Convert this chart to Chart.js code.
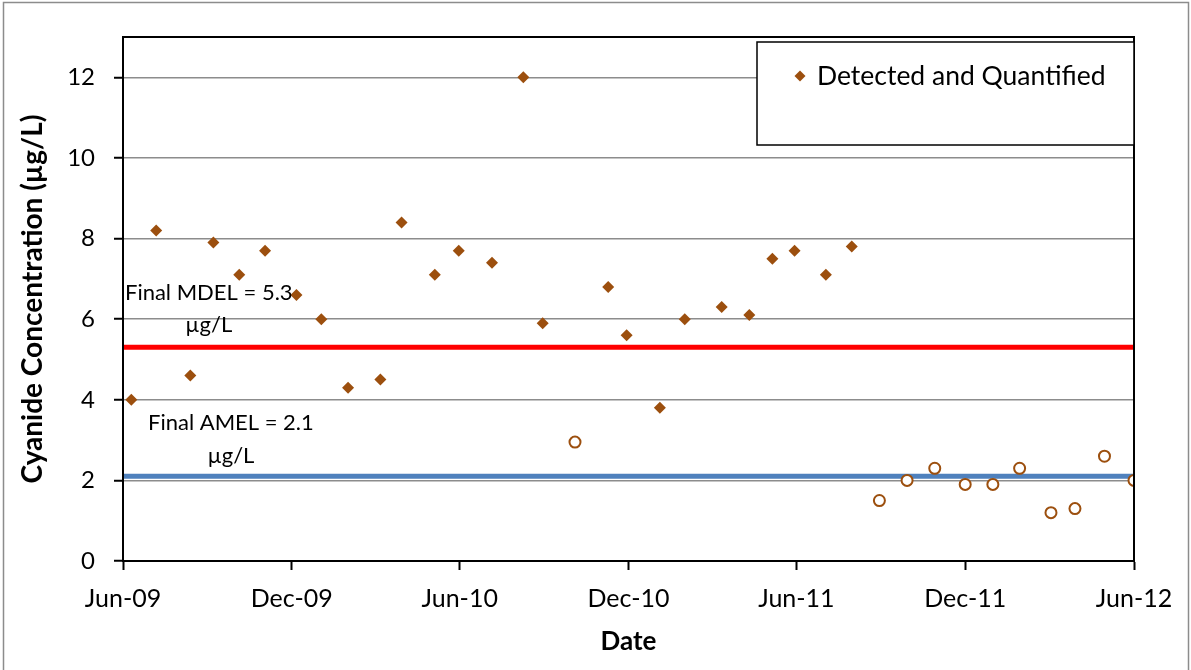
<!DOCTYPE html>
<html>
<head>
<meta charset="utf-8">
<script src="https://cdn.jsdelivr.net/npm/chart.js@4/dist/chart.umd.min.js"></script>
<style>
html,body{margin:0;padding:0;background:#fff;}
#wrap{width:1191px;height:670px;position:relative;}
</style>
</head>
<body>
<div id="wrap"><canvas id="c" width="1191" height="670"></canvas></div>
<script>
// ---- Data ----
const detectedDates = ['2009-06-10','2009-07-07','2009-08-13','2009-09-07','2009-10-05','2009-11-02','2009-12-06','2010-01-02','2010-01-31','2010-03-07','2010-03-30','2010-05-05','2010-05-31','2010-07-06','2010-08-09','2010-08-30','2010-11-09','2010-11-29','2011-01-04','2011-01-31','2011-03-12','2011-04-11','2011-05-06','2011-05-30','2011-07-03','2011-07-31'];
const detectedValues = [4.0,8.2,4.6,7.9,7.1,7.7,6.6,6.0,4.3,4.5,8.4,7.1,7.7,7.4,12.0,5.9,6.8,5.6,3.8,6.0,6.3,6.1,7.5,7.7,7.1,7.8];
const ndDates = ['2010-10-04','2011-08-30','2011-09-29','2011-10-29','2011-12-01','2011-12-31','2012-01-29','2012-03-03','2012-03-29','2012-04-30','2012-06-01'];
const ndValues = [2.95,1.5,2.0,2.3,1.9,1.9,2.3,1.2,1.3,2.6,2.0];
const tickDates = ['2009-06-01','2009-12-01','2010-06-01','2010-12-01','2011-06-01','2011-12-01','2012-06-01'];
const tickLabels = ['Jun-09','Dec-09','Jun-10','Dec-10','Jun-11','Dec-11','Jun-12'];
const mdel = 5.3;
const amel = 2.1;
const yTicks = [0,2,4,6,8,10,12];

// ---- helpers ----
const ORIGIN = Date.UTC(2009,5,1);
function dayNum(s){const p=s.split('-').map(Number);return (Date.UTC(p[0],p[1]-1,p[2])-ORIGIN)/86400000;}
const xMin = dayNum(tickDates[0]);
const xMax = dayNum(tickDates[tickDates.length-1]);
const tickDays = tickDates.map(dayNum);

const FONT = 'Lato, "Open Sans", sans-serif';
const brown = '#9C4F0E';

const framePlugin = {
  id:'frame',
  beforeDraw(chart){
    const ctx=chart.ctx;
    ctx.save();
    ctx.fillStyle='#fff';ctx.fillRect(0,0,chart.width,chart.height);
    ctx.strokeStyle='#8c8c8c';ctx.lineWidth=1.5;
    ctx.strokeRect(3.5,2.5,1185,670);
    ctx.restore();
  },
  afterDatasetsDraw(chart){
    const ctx=chart.ctx, a=chart.chartArea;
    ctx.save();
    ctx.strokeStyle='#000';ctx.lineWidth=2;
    ctx.strokeRect(a.left,a.top,a.right-a.left,a.bottom-a.top);
    // annotations
    const xs=chart.scales.x, ys=chart.scales.y;
    ctx.fillStyle='#000';ctx.font='22px '+FONT;ctx.textAlign='center';ctx.textBaseline='middle';
    const notes=[[93,6.65,32,['Final MDEL = '+mdel,'µg/L']],[117,3.42,33,['Final AMEL = '+amel,'µg/L']]];
    notes.forEach(n=>{
      const px=xs.getPixelForValue(n[0]), py=ys.getPixelForValue(n[1]);
      n[3].forEach((t,i)=>ctx.fillText(t,px,py+i*n[2]));
    });
    // legend
    const lx=757, ly=a.top+5, lw=a.right-757, lh=103;
    ctx.fillStyle='#fff';ctx.fillRect(lx,ly,lw,lh);
    ctx.strokeStyle='#000';ctx.lineWidth=1.5;ctx.strokeRect(lx,ly,lw,lh);
    const ds=chart.data.datasets[0];
    const mx=800,my=ly+34;
    ctx.fillStyle=ds.backgroundColor;
    ctx.beginPath();ctx.moveTo(mx,my-5.5);ctx.lineTo(mx+5.5,my);ctx.lineTo(mx,my+5.5);ctx.lineTo(mx-5.5,my);ctx.closePath();ctx.fill();
    ctx.fillStyle='#000';ctx.font='26.5px '+FONT;ctx.textAlign='left';
    ctx.fillText(ds.label,817,my);
    ctx.restore();
  }
};

new Chart(document.getElementById('c'),{
  type:'scatter',
  data:{
    datasets:[
      {label:'Detected and Quantified',data:detectedDates.map((d,i)=>({x:dayNum(d),y:detectedValues[i]})),
        pointStyle:'rectRot',pointRadius:6,backgroundColor:brown,borderColor:brown,borderWidth:0,order:0},
      {label:'Not Detected',data:ndDates.map((d,i)=>({x:dayNum(d),y:ndValues[i]})),
        pointStyle:'circle',pointRadius:5.5,backgroundColor:'#fff',borderColor:brown,borderWidth:2,order:0},
      {label:'Final MDEL',type:'line',data:[{x:xMin,y:mdel},{x:xMax,y:mdel}],borderColor:'#FF0000',borderWidth:5,pointRadius:0,order:2},
      {label:'Final AMEL',type:'line',data:[{x:xMin,y:amel},{x:xMax,y:amel}],borderColor:'#4F81BD',borderWidth:5,pointRadius:0,order:2}
    ]
  },
  options:{
    responsive:false,animation:false,
    layout:{padding:{left:0,right:57,top:37,bottom:0}},
    plugins:{legend:{display:false},tooltip:{enabled:false}},
    scales:{
      x:{type:'linear',min:xMin,max:xMax,
        afterBuildTicks(s){s.ticks=tickDays.map(v=>({value:v}));},
        afterFit(s){s.height=109;},
        ticks:{callback:(v)=>{const i=tickDays.indexOf(v);return i>=0?tickLabels[i]:'';},font:{family:FONT,size:25},color:'#000',padding:14,maxRotation:0,autoSkip:false},
        grid:{drawOnChartArea:false,tickLength:9,tickColor:'#000',tickWidth:2},
        border:{color:'#000',width:2},
        title:{display:true,text:'Date',font:{family:FONT,size:26,weight:'bold'},color:'#000',padding:{top:0,bottom:13}}
      },
      y:{min:0,max:13,
        afterBuildTicks(s){s.ticks=yTicks.map(v=>({value:v}));},
        afterFit(s){s.width=123;},
        ticks:{font:{family:FONT,size:24},color:'#000',padding:19},
        grid:{color:'#8c8c8c',lineWidth:1.5,tickLength:9,tickColor:'#000',tickWidth:2},
        border:{color:'#000',width:2},
        title:{display:true,text:'Cyanide Concentration (µg/L)',font:{family:FONT,size:28,weight:'bold'},color:'#000',padding:{top:16,bottom:0}}
      }
    }
  },
  plugins:[framePlugin]
});
</script>
</body>
</html>
